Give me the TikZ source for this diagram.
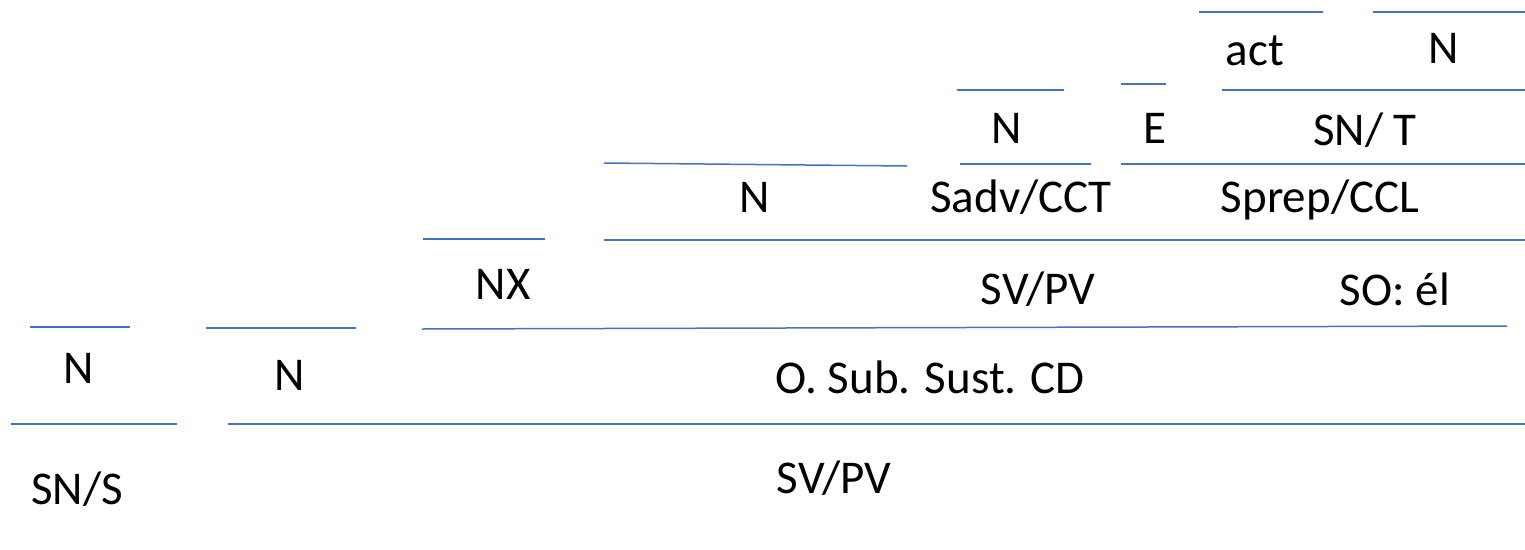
\documentclass[tikz,border=0pt]{standalone}
\usepackage{fontspec}
\setmainfont{Carlito}
\definecolor{rayaazul}{HTML}{4472C4}

\begin{document}
\begin{tikzpicture}[x=1pt,y=-1pt,
    raya/.style={draw=rayaazul,line width=1.5pt},
    etiq/.style={anchor=base,inner sep=0pt,font=\fontsize{47}{56}\selectfont}]
\useasboundingbox (0,0) rectangle (1525,549);

% sujeto
\draw[raya] (30,327) -- (130,327);
    \node[etiq] (nsuj) at (79,383) {N};
\draw[raya] (11,424) -- (177,424);
    \node[etiq] (sns) at (77,504) {SN/S};

% predicado
\draw[raya] (206,328) -- (356,328);
    \node[etiq] (nverbo) at (290,390) {N};
\draw[raya] (228,424) -- (1525,424);
    \node[etiq] (svpv) at (834,493) {SV/PV};

% subordinada
\draw[raya] (422,329) -- (1507,326);
    \node[etiq] (osub) at (930,393) {O. Sub. Sust. CD};
\draw[raya] (423,239) -- (545,239);
    \node[etiq] (nx) at (503,299) {NX};
\draw[raya] (604,240) -- (1525,240);
    \node[etiq] (svpvsub) at (1038,304) {SV/PV};
    \node[etiq] (soel) at (1395,305) {SO: él};

% complementos
\draw[raya] (604,163) -- (907,166);
    \node[etiq] (nsub) at (755,212) {N};
\draw[raya] (960,164) -- (1091,164);
    \node[etiq] (sadv) at (1021,212) {Sadv/CCT};
\draw[raya] (1121,164) -- (1525,164);
    \node[etiq] (sprep) at (1320,212) {Sprep/CCL};

\draw[raya] (957,90) -- (1064,90);
    \node[etiq] (nadv) at (1007,143) {N};
\draw[raya] (1121,84) -- (1166,84);
    \node[etiq] (enl) at (1155,143) {E};
\draw[raya] (1222,90) -- (1525,90);
    \node[etiq] (snt) at (1365,145) {SN/ T};

\draw[raya] (1199,12) -- (1323,12);
    \node[etiq] (act) at (1255,65) {act};
\draw[raya] (1373,12) -- (1525,12);
    \node[etiq] (nt) at (1444,63) {N};
\end{tikzpicture}
\end{document}
